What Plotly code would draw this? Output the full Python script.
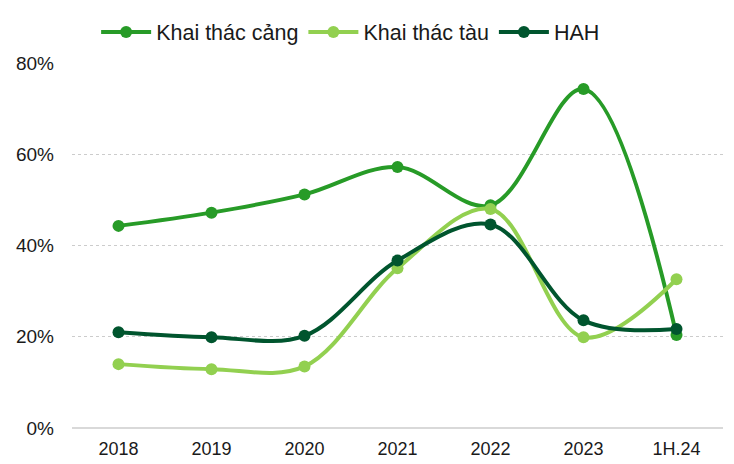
import plotly.graph_objects as go

categories = ["2018", "2019", "2020", "2021", "2022", "2023", "1H.24"]
khai_thac_cang = [44.3, 47.2, 51.2, 57.2, 48.8, 74.3, 20.4]
khai_thac_tau = [14.0, 12.9, 13.5, 35.0, 48.0, 19.9, 32.6]
hah = [21.0, 19.9, 20.2, 36.7, 44.6, 23.6, 21.7]

series = [
    ("Khai thác cảng", khai_thac_cang, "#279b27"),
    ("Khai thác tàu", khai_thac_tau, "#92d050"),
    ("HAH", hah, "#00552e"),
]

fig = go.Figure()
for name, vals, color in series:
    fig.add_trace(go.Scatter(
        x=categories, y=[v / 100 for v in vals], name=name,
        mode="lines+markers",
        line=dict(color=color, width=4, shape="spline", smoothing=1),
        marker=dict(color=color, size=12),
    ))

fig.update_layout(
    width=734, height=464,
    margin=dict(l=64, r=19, t=55, b=44, autoexpand=False),
    paper_bgcolor="white", plot_bgcolor="white",
    font=dict(family="Liberation Sans, Arial, sans-serif", size=18, color="#1a1a1a"),
    legend=dict(orientation="h", x=0.428, xanchor="center", y=1.085, yanchor="middle",
                font=dict(size=21.5), itemwidth=50, tracegroupgap=0),
    showlegend=True,
)
fig.update_xaxes(type="category", range=[-0.5, 6.5], showgrid=False, showline=False,
                 ticks="", tickfont=dict(size=18), ticklabelstandoff=8)
fig.update_yaxes(range=[0, 0.8], tickvals=[0, 0.2, 0.4, 0.6, 0.8], tickformat=".0%",
                 tickfont=dict(size=19),
                 showgrid=True, gridcolor="#cccccc", griddash="dot", gridwidth=1,
                 zeroline=True, zerolinecolor="#d9d9d9", zerolinewidth=2,
                 ticks="", ticklabelstandoff=17, showline=False)

fig.write_html("out.html")
